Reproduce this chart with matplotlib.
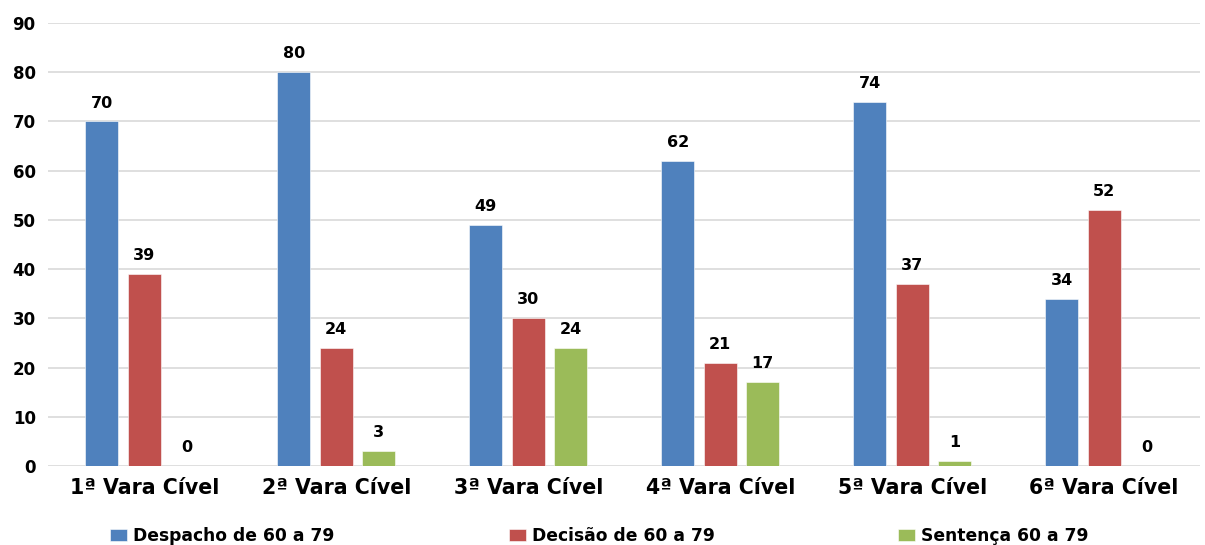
import numpy as np
import matplotlib.pyplot as plt

plt.rcParams['font.family'] = ['DejaVu Sans']
plt.rcParams['font.weight'] = 'bold'

varas = ['1ª Vara Cível', '2ª Vara Cível', '3ª Vara Cível',
         '4ª Vara Cível', '5ª Vara Cível', '6ª Vara Cível']
despacho = [70, 80, 49, 62, 74, 34]
decisao = [39, 24, 30, 21, 37, 52]
sentenca = [0, 3, 24, 17, 1, 0]

series = [
    ('Despacho de 60 a 79', despacho, '#4F81BD'),
    ('Decisão de 60 a 79', decisao, '#C0504D'),
    ('Sentença 60 a 79', sentenca, '#9BBB59'),
]

W, H = 1205, 545
fig = plt.figure(figsize=(W / 100, H / 100), dpi=100)
ax = fig.add_axes([0.040, 0.145, 0.956, 0.813])

x = np.arange(len(varas))
width = 0.172
step = 0.221

containers = []
for i, (name, vals, color) in enumerate(series):
    pos = x + (i - 1) * step
    bars = ax.bar(pos, vals, width, color=color, label=name,
                  edgecolor='white', linewidth=0.4, zorder=3)
    containers.append(bars)
    for b, v in zip(bars, vals):
        ax.text(b.get_x() + b.get_width() / 2, v + 2.2, str(v),
                ha='center', va='bottom', fontsize=11.5, fontweight='bold')

ax.set_xlim(-0.5, len(varas) - 0.5)
ax.set_ylim(0, 90)
ax.set_yticks(range(0, 91, 10))
ax.yaxis.grid(True, color='#D9D9D9', linewidth=1.2, zorder=0)
ax.set_axisbelow(True)
for s in ax.spines.values():
    s.set_visible(False)
ax.tick_params(axis='both', length=0)
ax.tick_params(axis='y', labelsize=12, pad=9)
ax.tick_params(axis='x', labelsize=14.8, pad=9)
ax.set_xticks(x)
ax.set_xticklabels(varas, fontweight='bold')
for lbl in ax.get_yticklabels():
    lbl.set_fontweight('bold')

# one legend entry per series, spread along the bottom
legend_x = [110, 509, 898]
for (name, _, _), bars, lx in zip(series, containers, legend_x):
    leg = fig.legend([bars], [name], loc='center left',
                     bbox_to_anchor=(lx / W, 1 - 536 / H),
                     frameon=False, fontsize=12.3, borderpad=0,
                     borderaxespad=0, handlelength=1.0, handleheight=0.75,
                     handletextpad=0.35)

fig.savefig('out.png', dpi=100)
